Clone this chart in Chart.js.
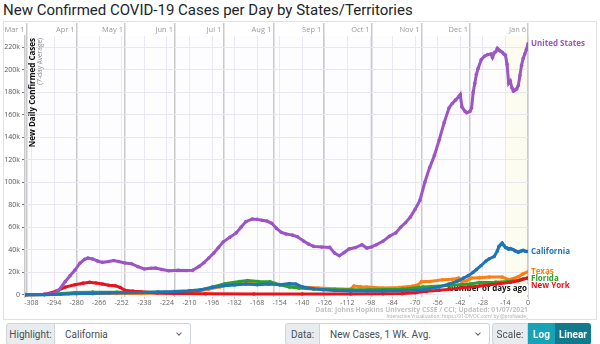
<!DOCTYPE html>
<html>
<head>
<meta charset="utf-8">
<script src="https://cdn.jsdelivr.net/npm/chart.js@4.4.1/dist/chart.umd.min.js"></script>
<style>
  body { margin:0; width:600px; height:344px; overflow:hidden; background:#fff; position:relative; font-family:Roboto, "Open Sans", sans-serif; }
  #title { position:absolute; left:3px; top:0; font-size:15px; line-height:20px; color:#212529; white-space:nowrap; }
  #box { position:absolute; left:3px; top:21px; width:592px; height:297px; border:1px solid #e2e2e2; }
  #chart { position:absolute; left:0; top:0; }
  .credit { position:absolute; right:72px; text-align:right; white-space:nowrap; font-family:"Open Sans"; color:#c2c2c2; font-weight:700; }
  .grp { position:absolute; top:323px; height:22px; display:flex; font-size:10px; color:#495057; }
  .pre { background:#e9ecef; border:1px solid #ced4da; border-radius:3px 0 0 3px; display:flex; align-items:center; justify-content:center; box-sizing:border-box; }
  .sel { background:#fff; border:1px solid #ced4da; border-left:none; border-radius:0 3px 3px 0; display:flex; align-items:center; padding-left:10px; box-sizing:border-box; position:relative; }
  .sel:after { content:""; position:absolute; right:9px; top:7px; width:3px; height:3px; border-right:1px solid #666; border-bottom:1px solid #666; transform:rotate(45deg); }
  .btn { color:#fff; font-weight:700; display:flex; align-items:center; justify-content:center; box-sizing:border-box; }
</style>
</head>
<body>
<div id="title">New Confirmed COVID-19 Cases per Day by States/Territories</div>
<div id="box"></div>
<canvas id="chart" width="600" height="320"></canvas>
<div class="credit" style="top:304.5px;font-size:6.8px;line-height:9px;">Data: Johns Hopkins University CSSE / CCI; Updated: 01/07/2021</div>
<div class="credit" style="top:312.5px;font-size:4.8px;line-height:6px;font-weight:400;color:#aaa;">Interactive Visualization: https://91-DIVOC.com/ by @profwade_</div>

<div class="grp" style="left:6px;">
  <span class="pre" style="width:49px;">Highlight:</span>
  <span class="sel" style="width:136px;">California</span>
</div>
<div class="grp" style="left:285px;">
  <span class="pre" style="width:35px;">Data:</span>
  <span class="sel" style="width:170px;">New Cases, 1 Wk. Avg.</span>
</div>
<div class="grp" style="left:492px;">
  <span class="pre" style="width:36px;">Scale:</span>
  <span class="btn" style="width:27px;background:#17a2b8;">Log</span>
  <span class="btn" style="width:36px;background:#117a8b;border-radius:0 3px 3px 0;">Linear</span>
</div>

<script>
// days before Jan 6, 2021
const dayTicks = [-308, -294, -280, -266, -252, -238, -224, -210, -196, -182, -168, -154, -140,
                  -126, -112, -98, -84, -70, -56, -42, -28, -14, 0];
const monthDays = [-311, -280, -250, -219, -189, -158, -127, -97, -66, -36, 0];
const monthLabels = ['Mar 1', 'Apr 1', 'May 1', 'Jun 1', 'Jul 1', 'Aug 1', 'Sep 1', 'Oct 1', 'Nov 1', 'Dec 1', 'Jan 6'];
const yTicks = [0, 20000, 40000, 60000, 80000, 100000, 120000, 140000, 160000, 180000, 200000, 220000];

const usDays = [-312, -300, -294, -291, -287, -284, -281, -278, -275, -273, -270, -267, -264, -260, -257, -254,
  -250, -246, -242, -238, -234, -231, -227, -223, -217, -212, -208, -204, -201, -198, -195, -192, -189, -185,
  -181, -178, -175, -171, -168, -165, -162, -159, -156, -153, -150, -146, -143, -139, -136, -133, -128, -123,
  -120, -117, -114, -111, -107, -103, -100, -97, -94, -90, -86, -82, -79, -76, -73, -70, -67, -64, -61, -58,
  -55, -52, -49, -47, -45, -43, -42, -41, -39, -38, -36, -35, -34, -33, -32, -31, -29, -27, -25, -23, -22,
  -21, -20, -19, -18, -17, -16, -15, -14, -13, -12, -11, -10, -9, -8, -7, -6, -5, -4, -3, -2, -1, 0];
const usCases = [300, 500, 1200, 4000, 11800, 17000, 22000, 28000, 31500, 32700, 31800, 30000, 28800, 29500, 30500, 29500,
  28200, 27600, 25000, 22900, 23500, 23800, 22500, 21400, 21700, 21500, 21700, 25200, 28500, 32700, 37000, 42000, 47000, 51000,
  55000, 60000, 65000, 67400, 67000, 66200, 65500, 63500, 59000, 55500, 54000, 53000, 51500, 47500, 45000, 43000, 42500, 42100,
  37100, 34700, 37500, 40700, 42000, 44500, 41500, 42500, 44500, 47500, 52000, 55000, 60000, 64000, 69000, 76000, 84000, 100000, 113000, 124000,
  138000, 153000, 166000, 170000, 173000, 176000, 178000, 167000, 163000, 161800, 163000, 166000, 180000, 188000, 196000, 201000, 209000, 212000, 213500, 214000, 211000,
  215000, 216000, 219000, 217500, 216500, 215500, 214000, 213000, 205000, 188000, 190000, 184000, 181000, 182000, 183000, 186000, 195000, 204000, 210000, 214000, 218000, 223000];

const caDays = [-312, -300, -290, -280, -270, -260, -250, -240, -230, -220, -210, -203, -196, -189, -182, -175, -168,
  -161, -154, -148, -144, -140, -134, -127, -120, -110, -100, -90, -80, -70, -62, -55, -49, -44, -40, -37, -34, -32,
  -29, -26, -24, -21, -19, -18, -17, -16, -15, -14, -13, -12, -11, -10, -9, -8, -7, -6, -5, -4, -3, -2, -1, 0];
const caCases = [0, 100, 500, 1000, 1200, 1500, 1700, 2000, 2500, 2800, 3500, 4500, 6500, 8000, 8700, 9500, 9000,
  9500, 9000, 10000, 9500, 7000, 5500, 4500, 3700, 3300, 3300, 3400, 3500, 4000, 5000, 7000, 9500, 12000, 14800, 17000, 20000, 22300,
  26000, 30000, 32000, 34000, 39000, 43000, 44500, 46000, 44000, 42000, 41600, 40500, 41000, 40500, 40000, 39000, 38500, 37700, 38500, 39000, 39500, 38800, 38500, 38600];

const txDays = [-312, -295, -285, -270, -255, -240, -225, -215, -205, -198, -191, -185, -178, -172, -166, -160, -154,
  -148, -140, -130, -120, -110, -108, -104, -100, -90, -80, -72, -68, -66, -61, -53, -47, -43, -41, -38, -35, -30,
  -24, -16, -12, -9, -6, -3, 0];
const txCases = [0, 200, 800, 1000, 1100, 1200, 1500, 2000, 3000, 5000, 7000, 9000, 9800, 10000, 9500, 10000, 9000,
  7800, 6800, 5900, 5300, 5000, 7800, 7200, 6800, 5900, 6500, 7500, 8900, 11800, 11800, 13400, 13800, 14800, 11800, 12500, 14800, 15200,
  15700, 15700, 13400, 14500, 16000, 18700, 20300];

const flDays = [-312, -300, -294, -281, -270, -255, -240, -229, -219, -211, -204, -196, -188, -179, -174, -167, -160,
  -154, -148, -142, -133, -119, -98, -78, -65, -50, -36, -30, -20, -10, -5, 0];
const flCases = [0, 200, 500, 2000, 2300, 2300, 2200, 2300, 2500, 3000, 3900, 6800, 9800, 11800, 12600, 11800, 11500,
  8900, 6800, 5900, 5000, 4500, 4500, 5000, 6800, 8300, 9500, 10800, 11200, 12000, 13000, 15000];

const nyDays = [-312, -300, -293, -287, -281, -276, -272, -268, -264, -260, -256, -253, -250, -245, -240, -230, -220,
  -200, -170, -140, -110, -90, -78, -70, -63, -55, -48, -42, -36, -30, -24, -18, -11, -6, -3, 0];
const nyCases = [0, 300, 3000, 6800, 8900, 10300, 11000, 10500, 9500, 8500, 8000, 6500, 4000, 3200, 2700, 1600, 1000,
  800, 700, 700, 700, 800, 1000, 1800, 3000, 4000, 5000, 6000, 6800, 7800, 8900, 9800, 11000, 12500, 14000, 15000];

const pts = (days, vals) => days.map((d, i) => ({ x: d, y: vals[i] }));

function series(label, days, vals, color, order) {
  return {
    label, data: pts(days, vals), order,
    borderColor: color, backgroundColor: color,
    borderWidth: 3, pointRadius: 1.8, pointBorderWidth: 0,
    pointBackgroundColor: color, tension: 0
  };
}

const bgPlugin = {
  id: 'bg',
  beforeDraw(chart) {
    const { ctx, chartArea: a, scales } = chart;
    ctx.save();
    ctx.fillStyle = '#fdfcff';
    ctx.fillRect(a.left, a.top, a.right - a.left, a.bottom - a.top);
    const x0 = scales.x.getPixelForValue(-14);
    ctx.fillStyle = '#fdfcf0';
    ctx.fillRect(x0, a.top, a.right - x0, a.bottom - a.top);
    ctx.restore();
  },
  beforeDatasetsDraw(chart) {
    const { ctx, chartArea: a } = chart;
    ctx.save();
    ctx.font = 'bold 8px "Open Sans"';
    const txt = 'Number of days ago';
    const w = ctx.measureText(txt).width;
    ctx.fillStyle = 'rgba(255,255,255,0.85)';
    ctx.fillRect(a.right - w - 3, a.bottom - 13, w + 3, 11);
    ctx.fillStyle = '#111';
    ctx.textAlign = 'right';
    ctx.textBaseline = 'middle';
    ctx.fillText(txt, a.right - 1, a.bottom - 8);
    // y axis title, inside the plot
    ctx.translate(a.left + 8, a.top + 2);
    ctx.rotate(-Math.PI / 2);
    ctx.textAlign = 'right';
    ctx.fillStyle = '#111';
    ctx.fillText('New Daily Confirmed Cases', 0, 0);
    ctx.font = '6.5px "Open Sans"';
    ctx.fillStyle = '#888';
    ctx.fillText('(7-day Average)', 0, 7.5);
    ctx.restore();
  }
};

const endLabels = {
  id: 'endLabels',
  afterDatasetsDraw(chart) {
    const { ctx, chartArea: a } = chart;
    const items = chart.data.datasets.map((ds, i) => {
      const meta = chart.getDatasetMeta(i);
      const last = meta.data[meta.data.length - 1];
      return { text: ds.label, color: ds.borderColor, y: last.y };
    }).sort((p, q) => p.y - q.y);
    let prev = -Infinity;
    ctx.save();
    ctx.font = 'bold 8px "Open Sans"';
    ctx.textBaseline = 'middle';
    items.forEach(it => {
      const y = Math.max(it.y, prev + 7);
      prev = y;
      ctx.fillStyle = it.color;
      ctx.fillText(it.text, a.right + 3, y);
    });
    ctx.restore();
  }
};

new Chart(document.getElementById('chart'), {
  type: 'line',
  data: {
    datasets: [
      series('United States', usDays, usCases, '#9b55c4', 1),
      series('California', caDays, caCases, '#1f74b6', 0),
      series('Texas', txDays, txCases, '#ff7f0e', 4),
      series('Florida', flDays, flCases, '#2ca02c', 3),
      series('New York', nyDays, nyCases, '#e8141b', 2)
    ]
  },
  options: {
    responsive: false,
    animation: false,
    layout: { padding: { left: 0, right: 72, top: 23, bottom: 13 } },
    plugins: { legend: { display: false }, tooltip: { enabled: false } },
    scales: {
      x: {
        type: 'linear', min: -312, max: 0, position: 'bottom',
        afterBuildTicks: ax => { ax.ticks = dayTicks.map(v => ({ value: v })); },
        afterFit: ax => { ax.height = 10; },
        border: { display: false },
        grid: { color: '#ebe7f3', tickLength: 2, tickColor: '#ccc' },
        ticks: { font: { family: 'Open Sans', size: 7 }, color: '#666', padding: 0, maxRotation: 0, autoSkip: false, callback: v => String(v) }
      },
      x2: {
        type: 'linear', min: -312, max: 0, position: 'top',
        afterBuildTicks: ax => { ax.ticks = monthDays.map(v => ({ value: v })); },
        afterFit: ax => { ax.height = 13; },
        border: { display: false },
        grid: { color: '#cacaca', lineWidth: 1.5, tickLength: 13, tickColor: '#cacaca' },
        ticks: { font: { family: 'Open Sans', size: 7.5 }, color: '#9a9a9a', align: 'end', labelOffset: -2, padding: -11,
                 maxRotation: 0, autoSkip: false, callback: (v, i) => monthLabels[i] }
      },
      y: {
        min: -2000, max: 230000,
        afterBuildTicks: ax => { ax.ticks = yTicks.map(v => ({ value: v })); },
        afterFit: ax => { ax.width = 25; },
        border: { display: true, color: '#cacaca', width: 1.5 },
        grid: { color: '#e9e5f2', tickLength: 3, tickColor: '#777' },
        ticks: { font: { family: 'Open Sans', size: 7 }, color: '#555', padding: 2, callback: v => v === 0 ? '0' : (v / 1000) + 'k' }
      }
    }
  },
  plugins: [bgPlugin, endLabels]
});
</script>
</body>
</html>
